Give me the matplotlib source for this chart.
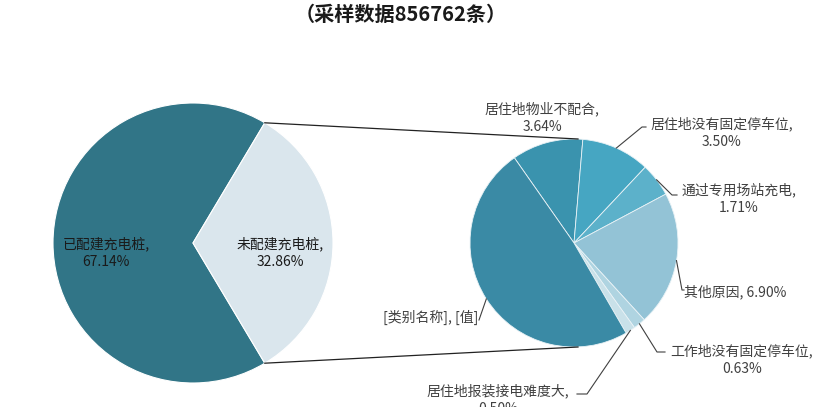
import numpy as np
import matplotlib
matplotlib.use("Agg")
import matplotlib.pyplot as plt

plt.rcParams['font.family'] = ['Noto Sans CJK SC', 'DejaVu Sans']

# main pie
main_labels = ['已配建充电桩', '未配建充电桩']
main_values = [67.14, 32.86]
main_colors = ['#317587', '#dae6ed']

# secondary pie (breakdown of 未配建充电桩)
sub_labels = ['居住地物业不配合', '居住地没有固定停车位', '通过专用场站充电', '其他原因',
              '工作地没有固定停车位', '居住地报装接电难度大', '[类别名称]']
sub_values = [3.64, 3.50, 1.71, 6.90, 0.63, 0.50, 15.98]
sub_texts = ['3.64%', '3.50%', '1.71%', '6.90%', '0.63%', '0.50%', '[值]']
sub_colors = ['#3a93ae', '#46a6c2', '#5cb1ca', '#93c3d6', '#afd4e1', '#c9e1e9', '#3a8aa5']

fig = plt.figure(figsize=(8.2, 4.07), dpi=100)
ax = fig.add_axes([0, 0, 1, 1])

c1, r1 = (193, 164), 140
c2, r2 = (574, 164), 104

half = main_values[1] / sum(main_values) * 180
w1, _ = ax.pie(main_values, colors=main_colors, center=c1, radius=r1,
               startangle=half, frame=True,
               wedgeprops=dict(linewidth=0.8, edgecolor='white'))
w2, _ = ax.pie(sub_values, colors=sub_colors, center=c2, radius=r2,
               startangle=125, counterclock=False, frame=True,
               wedgeprops=dict(linewidth=0.6, edgecolor='#e8f2f6'))
ax.set_xlim(0, 820)
ax.set_ylim(0, 407)
ax.set_aspect('equal')
ax.axis('off')

# connector lines between the pies
for ang, y2 in [(half, c2[1] + r2), (-half, c2[1] - r2)]:
    x1 = c1[0] + r1 * np.cos(np.radians(ang))
    y1 = c1[1] + r1 * np.sin(np.radians(ang))
    ax.plot([x1, c2[0] + 4], [y1, y2], color='#222222', lw=0.9)

fs = 10
# labels of main pie
ax.text(106, 154, f'{main_labels[0]},\n{main_values[0]:.2f}%', ha='center', va='center',
        fontsize=fs, color='#1a1a1a', linespacing=1.3)
ax.text(280, 154, f'{main_labels[1]},\n{main_values[1]:.2f}%', ha='center', va='center',
        fontsize=fs, color='#1a1a1a', linespacing=1.3)

# labels of second pie: (text x, text y, ha, elbow x, elbow y, end x)
spots = [
    (542, 289, 'center', None, None, None),
    (722, 274, 'center', 642, 280, 646),
    (739, 208, 'center', 672, 212, 677),
    (684, 115, 'left', 682, 117, 684),
    (742, 47, 'center', 657, 55, 665),
    (498, 7, 'center', 587, 13, 577),
    (478, 90, 'right', 479, 87, 479),
]
for w, lab, txt, (tx, ty, ha, ex, ey, endx) in zip(w2, sub_labels, sub_texts, spots):
    mid = np.radians((w.theta1 + w.theta2) / 2)
    if ex is not None:
        px = c2[0] + r2 * np.cos(mid)
        py = c2[1] + r2 * np.sin(mid)
        ax.plot([px, ex, endx], [py, ey, ey], color='#404040', lw=0.8)
    if lab == '其他原因' or lab == '[类别名称]':
        s = f'{lab}, {txt}'
    else:
        s = f'{lab},\n{txt}'
    ax.text(tx, ty, s, ha=ha, va='center', fontsize=fs, color='#404040', linespacing=1.3)

ax.text(401, 393, '（采样数据856762条）', ha='center', va='center', fontsize=14.5,
        fontweight='bold', color='#1a1a1a')

fig.savefig('out.png', dpi=100)
